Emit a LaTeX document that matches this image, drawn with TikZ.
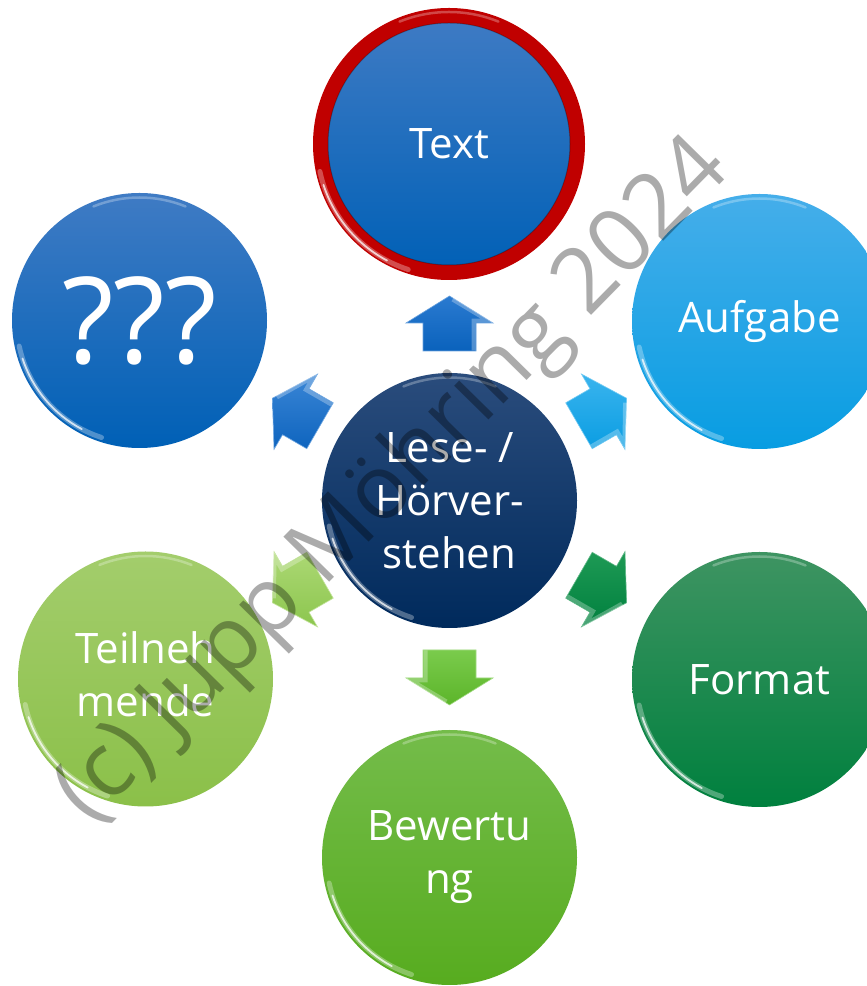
\documentclass[tikz,border=0pt]{standalone}
\usepackage{fontspec}
\setmainfont{Open Sans}
\usetikzlibrary{calc}
\definecolor{txtA}{HTML}{3F7BC4}
\definecolor{txtB}{HTML}{0060B6}
\definecolor{ringred}{HTML}{C00000}
\definecolor{qA}{HTML}{3F7BC4}
\definecolor{qB}{HTML}{0060B6}
\definecolor{aA}{HTML}{45AEEA}
\definecolor{aB}{HTML}{089DE2}
\definecolor{navyA}{HTML}{2A4C7C}
\definecolor{navyB}{HTML}{002A5C}
\definecolor{fA}{HTML}{3E9462}
\definecolor{fB}{HTML}{00803E}
\definecolor{tA}{HTML}{A3CD6C}
\definecolor{tB}{HTML}{8BC049}
\definecolor{bA}{HTML}{74BC4A}
\definecolor{bB}{HTML}{57AC1F}
\definecolor{arUpA}{HTML}{2A7AD0}
\definecolor{arUpB}{HTML}{0A62BC}
\definecolor{arLuA}{HTML}{3A86D6}
\definecolor{arLuB}{HTML}{0E64BE}
\definecolor{arRuA}{HTML}{3AB4EE}
\definecolor{arRuB}{HTML}{0A9DE2}
\definecolor{arRdA}{HTML}{1E9A55}
\definecolor{arRdB}{HTML}{00803E}
\definecolor{arLdA}{HTML}{ACD874}
\definecolor{arLdB}{HTML}{8CC64E}
\definecolor{arDnA}{HTML}{7ACB4C}
\definecolor{arDnB}{HTML}{5CB52A}
\tikzset{
  btn/.style={circle, minimum size=255pt, inner sep=0pt, text=white,
    font=\fontsize{42}{53}\selectfont, align=center},
  glintthick/.style={white, opacity=.30, line width=5pt, line cap=round},
  glintthin/.style={white, opacity=.75, line width=1.8pt, line cap=round},
  glinttop/.style={white, opacity=.28, line width=2.5pt, line cap=round},
  arrowbody/.style={line width=.6pt, line join=miter},
  bevel/.style={white, opacity=.28, line width=4pt, line join=miter},
  watermark/.style={font=\fontsize{90}{90}\selectfont, text=black, text opacity=.33, inner sep=0pt},
}
\newcommand\glint[2]{%
  \draw[glintthick] ($(#1.center)+(192:#2)$) arc[start angle=192, end angle=252, radius=#2];
  \draw[glintthin] ($(#1.center)+(198:#2)$) arc[start angle=198, end angle=242, radius=#2];
  \draw[glinttop] ($(#1.center)+(68:#2)$) arc[start angle=68, end angle=112, radius=#2];
}
\newcommand\blkarrow[3]{%
  \begin{scope}[shift={(ctr)}, rotate=#1, xshift=177pt]
    \path[arrowbody, top color=#2, bottom color=#3, draw=#2!70!white]
      (27.5,0) -- (0.5,43.5) -- (0.5,26.5) -- (-27.5,26.5) -- (-27.5,-26.5)
      -- (0.5,-26.5) -- (0.5,-43.5) -- cycle;
    \draw[bevel] (-27,-24) -- (2.8,-24) -- (2.8,-38.5) -- (24,-3);
  \end{scope}}
\begin{document}
\begin{tikzpicture}[x=1pt,y=1pt]
\useasboundingbox (0,0) rectangle (867,986);
\clip (0,0) rectangle (867,986);
\fill[white] (0,0) rectangle (867,986);
\coordinate (ctr) at (449.5,485.5);

% circles
\node[btn, top color=txtA, bottom color=txtB, draw=ringred, line width=15pt, minimum size=257pt] (text) at (449,842) {Text};
\node[btn, top color=qA, bottom color=qB, font=\fontsize{120}{120}\selectfont] (q) at (139.5,665.5) {???};
\node[btn, top color=aA, bottom color=aB] (auf) at (759.5,664.5) {Aufgabe};
\node[btn, top color=navyA, bottom color=navyB] (C) at (ctr) {Lese- /\\Hörver-\\stehen};
\node[btn, top color=fA, bottom color=fB] (fmt) at (759.5,306.5) {Format};
\node[btn, top color=tA, bottom color=tB] (teil) at (145.5,307) {Teilneh\\mende\vphantom{g}};
\node[btn, top color=bA, bottom color=bB] (bew) at (449.5,128.5) {Bewertu\\ng};

% highlights
\glint{text}{132}
\draw[black, opacity=.25, line width=1pt] (text.center) circle[radius=121];
\glint{q}{123}
\glint{auf}{123}
\glint{C}{123}
\glint{fmt}{123}
\glint{teil}{123}
\glint{bew}{123}

% block arrows
\blkarrow{90}{arUpA}{arUpB}
\blkarrow{150}{arLuA}{arLuB}
\blkarrow{30}{arRuA}{arRuB}
\blkarrow{210}{arLdA}{arLdB}
\blkarrow{330}{arRdA}{arRdB}
\blkarrow{270}{arDnA}{arDnB}

% watermark
\node[watermark, rotate=45.5] (wm) at (395,504) {(c) Jupp Möhring 2024};
\end{tikzpicture}
\end{document}
